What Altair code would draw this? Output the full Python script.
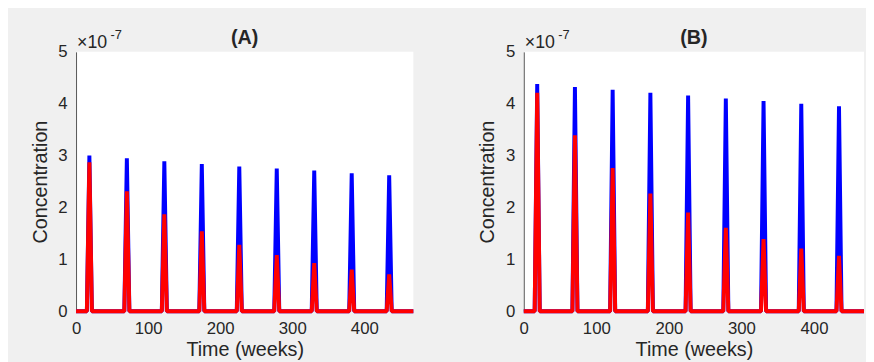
import altair as alt
import pandas as pd

# ---- data (concentration in units of 1e-7) ----
peak_weeks = [18.5, 70.5, 122.5, 174.5, 226.5, 278.5, 330.5, 382.5, 434.5]
a_blue = [3.00, 2.95, 2.89, 2.84, 2.79, 2.75, 2.71, 2.66, 2.62]
a_red = [2.87, 2.31, 1.87, 1.54, 1.28, 1.08, 0.93, 0.80, 0.71]
b_blue = [4.38, 4.32, 4.27, 4.21, 4.16, 4.10, 4.05, 4.00, 3.95]
b_red = [4.21, 3.39, 2.76, 2.27, 1.90, 1.61, 1.39, 1.21, 1.07]
rise_start = [-3.5] * 9      # weeks before each peak where the pulse starts
fall_end = [3.5] * 9         # weeks after each peak where the pulse is back at 0
x_ticks = [0, 100, 200, 300, 400]
y_ticks = [0, 1, 2, 3, 4, 5]
unit = 1e-7
panel_titles = ["(A)", "(B)"]
x_max = [468, 469]

FONT = "Liberation Sans"
TXT = "#262626"


def series_rows(peaks, name, xend):
    rows = [{"t": 0.0, "c": 0.0, "s": name, "o": 0}]
    o = 1
    for t, v, r, f in zip(peak_weeks, peaks, rise_start, fall_end):
        for tt, cc in ((t + r, 0.0), (t, v * unit), (t + f, 0.0)):
            rows.append({"t": tt, "c": cc, "s": name, "o": o})
            o += 1
    rows.append({"t": float(xend), "c": 0.0, "s": name, "o": o})
    return rows


def panel(blue, red, title, xend, w):
    df = pd.DataFrame(series_rows(blue, "blue", xend) + series_rows(red, "red", xend))
    xs = alt.Scale(domain=[0, xend], nice=False, zero=False)
    ys = alt.Scale(domain=[0, 5 * unit], nice=False)
    xax = alt.Axis(values=x_ticks, title="Time (weeks)", labelPadding=10, titlePadding=3,
                   ticks=False, domain=False, labelFlush=False)
    yax = alt.Axis(values=[v * unit for v in y_ticks], title="Concentration",
                   labelExpr="format(round(datum.value*1e7),'d')", labelPadding=9,
                   titlePadding=8, ticks=False, domainColor="#555555", domainWidth=1)
    base = alt.Chart(df)
    blue_line = base.transform_filter(alt.datum.s == "blue").mark_line(
        color="#0000ff", strokeWidth=4, strokeJoin="bevel"
    ).encode(x=alt.X("t:Q", scale=xs, axis=xax), y=alt.Y("c:Q", scale=ys, axis=yax), order="o:Q")
    red_line = base.transform_filter(alt.datum.s == "red").mark_line(
        color="#ff0000", strokeWidth=4, strokeJoin="bevel"
    ).encode(x=alt.X("t:Q", scale=xs), y=alt.Y("c:Q", scale=ys), order="o:Q")
    ex1 = alt.Chart(pd.DataFrame({"txt": ["\u00d710"]})).mark_text(
        font=FONT, fontSize=18, color=TXT, align="left", baseline="alphabetic"
    ).encode(x=alt.value(1), y=alt.value(-4), text="txt:N")
    ex2 = alt.Chart(pd.DataFrame({"txt": ["-7"]})).mark_text(
        font=FONT, fontSize=13, color=TXT, align="left", baseline="alphabetic"
    ).encode(x=alt.value(35), y=alt.value(-13), text="txt:N")
    return alt.layer(blue_line, red_line, ex1, ex2).properties(
        width=w, height=263,
        title=alt.TitleParams(title, fontSize=20, font=FONT, fontWeight="bold", color=TXT,
                              offset=-19, anchor="middle"),
    )


chart = alt.hconcat(
    panel(a_blue, a_red, panel_titles[0], x_max[0], 342),
    panel(b_blue, b_red, panel_titles[1], x_max[1], 345),
    spacing=63,
).properties(
    background="#f0f0f0",
    padding={"left": 22, "top": 18, "right": 0, "bottom": 0},
).configure_view(fill="white", stroke=None).configure_axis(
    grid=False, labelFont=FONT, titleFont=FONT, labelFontSize=17, titleFontSize=20,
    labelColor=TXT, titleColor=TXT, titleFontWeight="normal",
)

chart.save("out.html", embed_options={"renderer": "svg", "actions": False})
